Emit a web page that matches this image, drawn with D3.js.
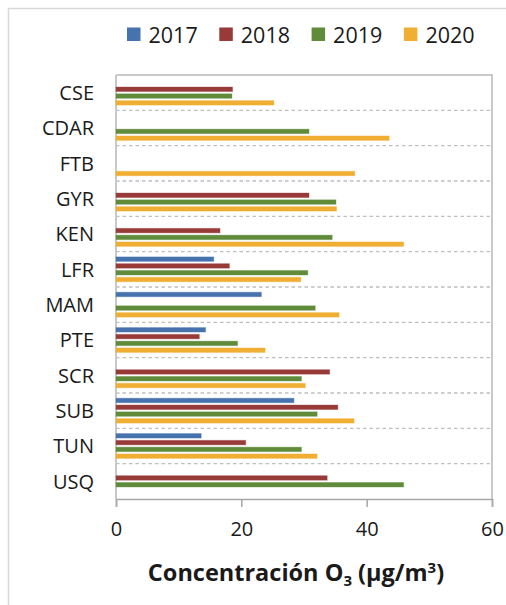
<!DOCTYPE html>
<html>
<head>
<meta charset="utf-8">
<script src="https://cdn.jsdelivr.net/npm/d3@7"></script>
<style>
  html, body { margin: 0; padding: 0; background: #fff; }
  svg { display: block; }
  text { font-family: "Open Sans", "Noto Sans", sans-serif; fill: #1a1a1a; }
</style>
</head>
<body>
<svg id="chart" width="506" height="605"></svg>
<script>
const categories = ["CSE", "CDAR", "FTB", "GYR", "KEN", "LFR", "MAM", "PTE", "SCR", "SUB", "TUN", "USQ"];
const seriesNames = ["2017", "2018", "2019", "2020"];
const seriesColors = ["#4672ae", "#973a38", "#5f8b3a", "#f0ae32"];
const values2017 = [null, null, null, null, null, 15.6, 23.2, 14.3, null, 28.4, 13.6, null];
const values2018 = [18.6, null, null, 30.8, 16.6, 18.1, null, 13.3, 34.1, 35.4, 20.7, 33.7];
const values2019 = [18.5, 30.8, null, 35.1, 34.5, 30.6, 31.8, 19.4, 29.6, 32.1, 29.6, 45.9];
const values2020 = [25.2, 43.6, 38.1, 35.2, 45.9, 29.5, 35.6, 23.8, 30.2, 38.0, 32.1, null];
const xTicks = [0, 20, 40, 60];

const seriesValues = [values2017, values2018, values2019, values2020];

const svg = d3.select("#chart");
const plot = { left: 116, right: 492, top: 75, bottom: 499 };

// outer chart border
svg.append("rect")
  .attr("x", 8.5).attr("y", 8.5).attr("width", 520).attr("height", 620)
  .attr("fill", "none").attr("stroke", "#d9d9d9").attr("stroke-width", 1.5);

const x = d3.scaleLinear().domain([0, 60]).range([plot.left, plot.right]);
const y = d3.scaleBand().domain(categories).range([plot.top, plot.bottom]);
const yInner = d3.scaleBand().domain(seriesNames).range([0, y.bandwidth()])
  .paddingInner(0.34).paddingOuter(0.77);

// gridlines between categories (dashed)
svg.append("g").selectAll("line")
  .data(categories.slice(1))
  .join("line")
  .attr("x1", plot.left).attr("x2", plot.right)
  .attr("y1", d => y(d)).attr("y2", d => y(d))
  .attr("stroke", "#bfbfbf").attr("stroke-width", 1.4)
  .attr("stroke-dasharray", "3.5,3");

// plot area border (top, right)
svg.append("path")
  .attr("d", `M${plot.left},${plot.top}H${plot.right}V${plot.bottom}`)
  .attr("fill", "none").attr("stroke", "#b8b8b8").attr("stroke-width", 1.5);
// left axis line
svg.append("line")
  .attr("x1", plot.left).attr("x2", plot.left)
  .attr("y1", plot.top).attr("y2", plot.bottom)
  .attr("stroke", "#c8c8c8").attr("stroke-width", 2);

// bars
const rows = [];
categories.forEach((c, i) => {
  seriesNames.forEach((s, j) => {
    const v = seriesValues[j][i];
    if (v != null) rows.push({ cat: c, series: s, value: v, color: seriesColors[j] });
  });
});
svg.append("g").selectAll("rect")
  .data(rows)
  .join("rect")
  .attr("x", x(0))
  .attr("y", d => y(d.cat) + yInner(d.series))
  .attr("width", d => x(d.value) - x(0))
  .attr("height", yInner.bandwidth())
  .attr("fill", d => d.color)
  .attr("stroke", d => d.color)
  .attr("stroke-opacity", 0.35)
  .attr("stroke-width", 1);

// x axis
const xAxis = svg.append("g")
  .attr("transform", `translate(0,${plot.bottom})`)
  .call(d3.axisBottom(x).tickValues(xTicks).tickSize(8).tickPadding(15).tickFormat(d3.format("d")));
xAxis.select(".domain").attr("stroke", "#a6a6a6").attr("stroke-width", 1.5);
xAxis.selectAll(".tick line").attr("stroke", "#a6a6a6").attr("stroke-width", 1.5);
xAxis.selectAll(".tick text")
  .style("font-family", "'Open Sans', sans-serif")
  .style("font-size", "20px").attr("fill", "#1a1a1a");

// category labels
svg.append("g").selectAll("text")
  .data(categories)
  .join("text")
  .attr("x", 94)
  .attr("y", d => y(d) + y.bandwidth() / 2)
  .attr("dy", "0.36em")
  .attr("text-anchor", "end")
  .style("font-size", "20px")
  .text(d => d);

// legend
const legend = svg.append("g");
seriesNames.forEach((s, j) => {
  const lx = 127 + j * 92.3;
  legend.append("rect")
    .attr("x", lx).attr("y", 27.5).attr("width", 13.5).attr("height", 13.5)
    .attr("fill", seriesColors[j]);
  legend.append("text")
    .attr("x", lx + 21.5).attr("y", 42.5)
    .style("font-size", "21.5px")
    .text(s);
});

// axis title
const title = svg.append("text")
  .attr("x", 296).attr("y", 581)
  .attr("text-anchor", "middle")
  .style("font-size", "23.5px").style("font-weight", "bold");
title.append("tspan").text("Concentración O");
title.append("tspan").attr("dy", 5).style("font-size", "15px").text("3");
title.append("tspan").attr("dy", -5).text(" (µg/m");
title.append("tspan").attr("dy", -8).style("font-size", "15px").text("3");
title.append("tspan").attr("dy", 8).text(")");
</script>
</body>
</html>
